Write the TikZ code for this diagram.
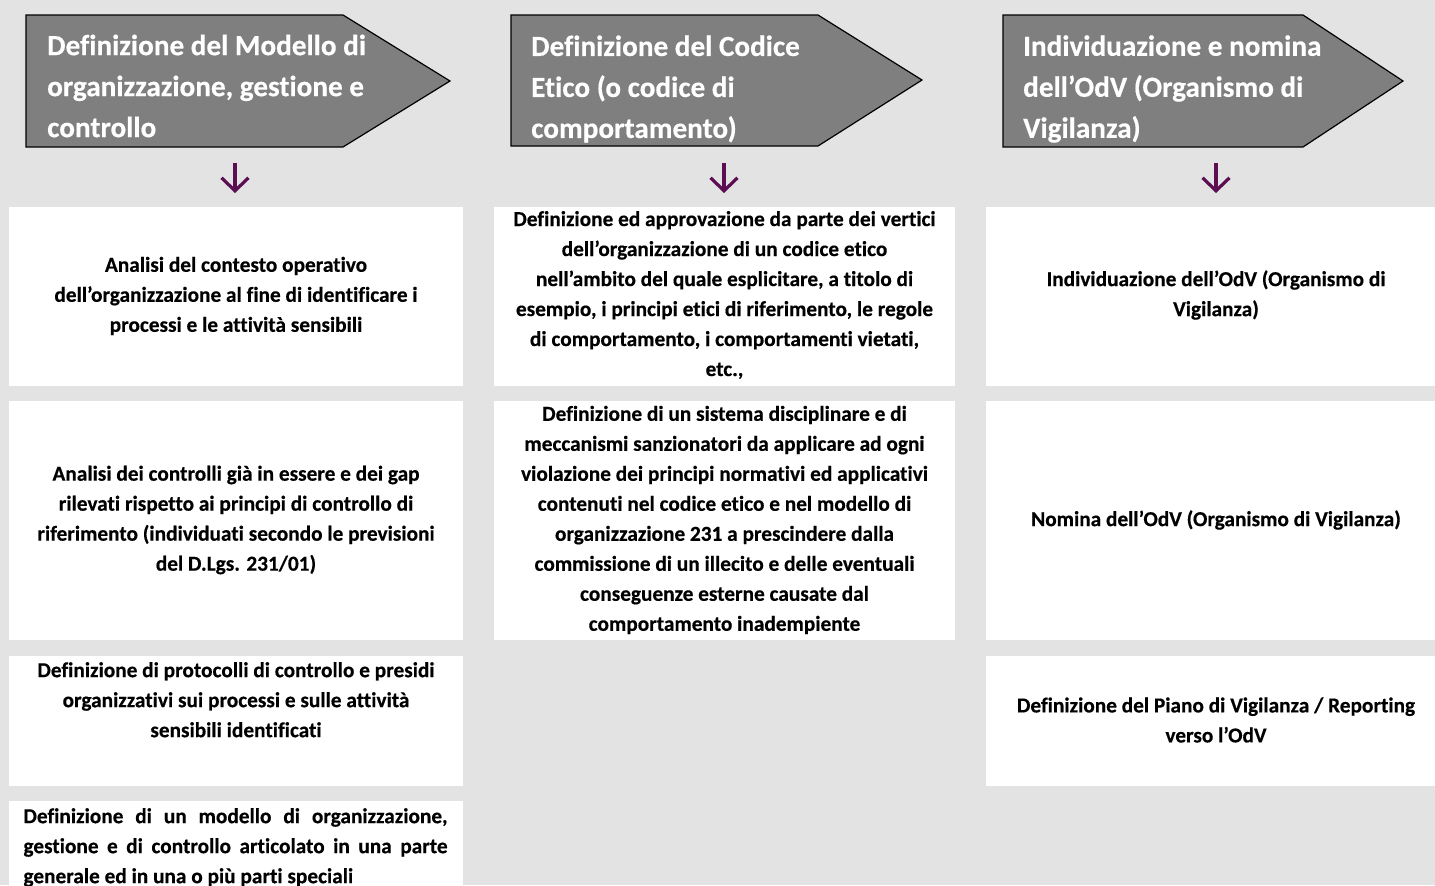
\documentclass[tikz,border=0pt]{standalone}
\usepackage{fontspec}
\setmainfont{Carlito}[Ligatures=CommonOff, BoldFeatures={FakeBold=0.4}]
\usetikzlibrary{arrows.meta}
\definecolor{bg}{RGB}{227,227,227}
\definecolor{hdr}{RGB}{127,127,127}
\definecolor{arr}{RGB}{92,14,82}
\tikzset{
 hdrshape/.style={draw=black, line width=1.2bp, fill=hdr},
 hdrtext/.style={anchor=west, align=left, text=white, font=\fontsize{29.2bp}{41bp}\selectfont\bfseries, inner sep=0pt},
 wbox/.style={fill=white},
 btext/.style={align=center, font=\fontsize{21.3bp}{30bp}\selectfont\bfseries, inner sep=0pt},
 jtext/.style={align=justify, text width=424bp, font=\fontsize{21.3bp}{30bp}\selectfont\bfseries, inner sep=0pt},
 darr/.style={draw=arr, line width=3.2bp, -{Straight Barb[length=13bp,width=27bp]}}
}
\begin{document}
\begin{tikzpicture}[x=1bp,y=-1bp]
\fill[bg] (0,0) rectangle (1435,885);
\useasboundingbox (0,0) rectangle (1435,885);
% headers
\draw[hdrshape] (26,15) -- (343,15) -- (450,81) -- (343,147) -- (26,147) -- cycle;
\draw[hdrshape] (511,15) -- (818,15) -- (922,80) -- (818,146) -- (511,146) -- cycle;
\draw[hdrshape] (1003,15) -- (1303,15) -- (1403,81) -- (1303,147) -- (1003,147) -- cycle;
\node[hdrtext] (h1) at (47,86) {Definizione del Modello di\\organizzazione, gestione e\\controllo};
\node[hdrtext] (h2) at (531,89) {Definizione del Codice\\Etico (o codice di\\comportamento)};
\node[hdrtext] (h3) at (1023,89) {Individuazione e nomina\\dell’OdV (Organismo di\\Vigilanza)};
% arrows
\coordinate (a1s) at (235,163); \coordinate (a1e) at (235,193);
\coordinate (a2s) at (724,163); \coordinate (a2e) at (724,193);
\coordinate (a3s) at (1216,163); \coordinate (a3e) at (1216,193);
\draw[darr] (a1s) -- (a1e);
\draw[darr] (a2s) -- (a2e);
\draw[darr] (a3s) -- (a3e);
% boxes column 1
\fill[wbox] (9,207) rectangle (463,386);
\fill[wbox] (9,401) rectangle (463,640);
\fill[wbox] (9,656) rectangle (463,786);
\fill[wbox] (9,801) rectangle (463,885);
% column 2
\fill[wbox] (494,207) rectangle (955,386);
\fill[wbox] (494,401) rectangle (955,640);
% column 3
\fill[wbox] (986,207) rectangle (1435,386);
\fill[wbox] (986,401) rectangle (1435,640);
\fill[wbox] (986,656) rectangle (1435,786);
% texts
\node[btext] (t11) at (236,296) {Analisi del contesto operativo\\dell’organizzazione al fine di identificare i\\processi e le attività sensibili};
\node[btext] (t12) at (236,520) {Analisi dei controlli già in essere e dei gap\\rilevati rispetto ai principi di controllo di\\riferimento (individuati secondo le previsioni\\del D.Lgs. 231/01)};
\node[btext, anchor=north] (t13) at (236,662) {Definizione di protocolli di controllo e presidi\\organizzativi sui processi e sulle attività\\sensibili identificati};
\node[jtext, anchor=north] (t14) at (235.5,808) {Definizione di un modello di organizzazione,\linebreak gestione e di controllo articolato in una parte\linebreak generale ed in una o più parti speciali};
\node[btext] (t21) at (724.5,295) {Definizione ed approvazione da parte dei vertici\\dell’organizzazione di un codice etico\\nell’ambito del quale esplicitare, a titolo di\\esempio, i principi etici di riferimento, le regole\\di comportamento, i comportamenti vietati,\\etc.,};
\node[btext] (t22) at (724.5,520) {Definizione di un sistema disciplinare e di\\meccanismi sanzionatori da applicare ad ogni\\violazione dei principi normativi ed applicativi\\contenuti nel codice etico e nel modello di\\organizzazione 231 a prescindere dalla\\commissione di un illecito e delle eventuali\\conseguenze esterne causate dal\\comportamento inadempiente};
\node[btext] (t31) at (1216,295) {Individuazione dell’OdV (Organismo di\\Vigilanza)};
\node[btext] (t32) at (1216,520) {Nomina dell’OdV (Organismo di Vigilanza)};
\node[btext] (t33) at (1216,720) {Definizione del Piano di Vigilanza / Reporting\\verso l’OdV};
\end{tikzpicture}
\end{document}
